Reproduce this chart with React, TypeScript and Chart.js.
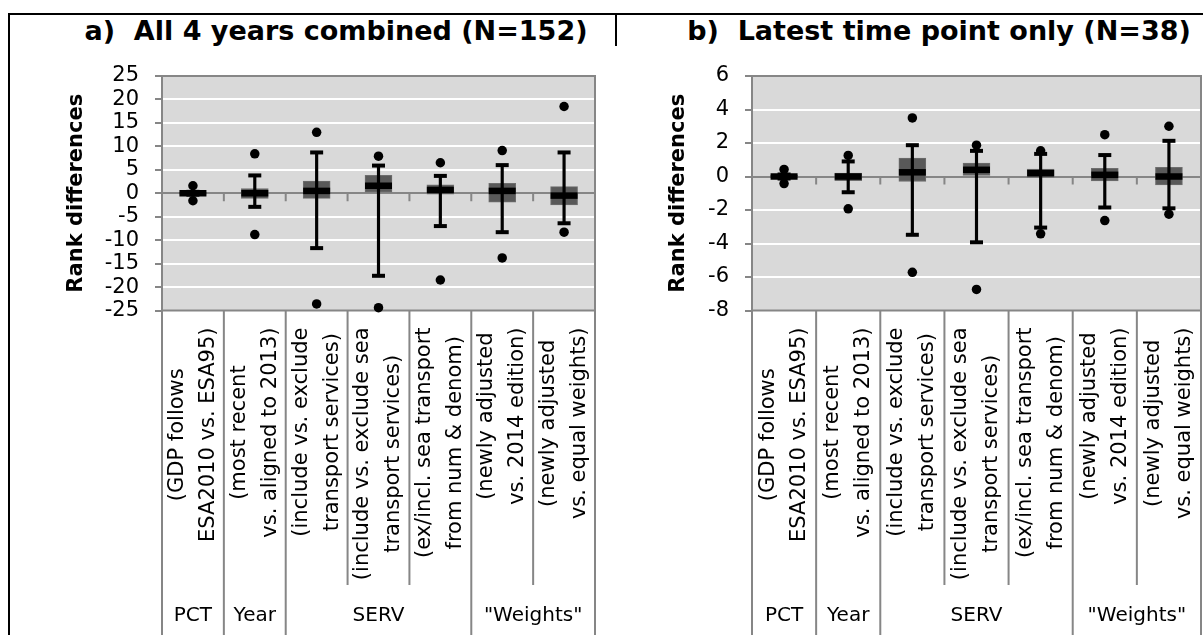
import React, { useEffect, useRef } from "react";
import { Chart, registerables } from "chart.js";

Chart.register(...registerables);

// ---------- DATA ----------
const categoryLabels: string[][] = [
  ["(GDP follows", "ESA2010 vs. ESA95)"],
  ["(most recent", "vs. aligned to 2013)"],
  ["(include vs. exclude", "transport services)"],
  ["(include vs. exclude sea", "transport services)"],
  ["(ex/incl. sea transport", "from num & denom)"],
  ["(newly adjusted", "vs. 2014 edition)"],
  ["(newly adjusted", "vs. equal weights)"],
];
const groupNames = ["PCT", "Year", "SERV", "\"Weights\""];
const groupStarts = [0, 1, 2, 5];
const groupEnds = [0, 1, 4, 6];

// a) All 4 years combined (N=152)
const allMin = [-1.6, -8.8, -23.6, -24.4, -18.5, -13.8, -8.3];
const allLowCap = [-0.3, -2.9, -11.7, -17.6, -7.0, -8.3, -6.4];
const allQ1 = [-0.2, -1.1, -1.1, 0.0, -0.2, -1.9, -2.5];
const allMedian = [0.0, 0.0, 0.5, 1.6, 0.7, 0.5, -0.5];
const allQ3 = [0.2, 1.0, 2.6, 3.8, 1.8, 2.1, 1.4];
const allHighCap = [0.3, 3.8, 8.7, 5.9, 3.7, 6.0, 8.7];
const allMax = [1.6, 8.4, 13.0, 7.9, 6.5, 9.1, 18.5];
const allTicks = { min: -25, max: 25, step: 5 };

// b) Latest time point only (N=38)
const latestMin = [-0.42, -1.93, -5.72, -6.74, -3.42, -2.63, -2.25];
const latestLowCap = [-0.12, -0.94, -3.48, -3.93, -3.05, -1.85, -1.9];
const latestQ1 = [-0.08, -0.25, -0.3, 0.0, -0.05, -0.27, -0.5];
const latestMedian = [0.0, 0.0, 0.25, 0.4, 0.2, 0.1, 0.0];
const latestQ3 = [0.08, 0.2, 1.1, 0.8, 0.45, 0.49, 0.55];
const latestHighCap = [0.12, 0.9, 1.87, 1.53, 1.35, 1.28, 2.13];
const latestMax = [0.42, 1.26, 3.5, 1.87, 1.53, 2.5, 3.0];
const latestTicks = { min: -8, max: 6, step: 2 };

// ---------- STYLE ----------
const FONT = '"DejaVu Sans", Verdana, sans-serif';
const AXIS = "#868686";
const PLOT_BG = "#d9d9d9";
const BOX = "#595959";

type PanelProps = {
  min: number[];
  lowCap: number[];
  q1: number[];
  median: number[];
  q3: number[];
  highCap: number[];
  max: number[];
  ticks: { min: number; max: number; step: number };
  width: number;
  yWidth: number;
  padRight: number;
  titlePad: number;
};

const CANVAS_H = 600;
const PLOT_TOP = 30;
const X_AXIS_H = 335.5;

function makeDecor() {
  return {
    id: "boxDecor",
    beforeDraw(chart: any) {
      const { ctx, chartArea: a } = chart;
      ctx.save();
      ctx.fillStyle = PLOT_BG;
      ctx.fillRect(a.left, a.top, a.right - a.left, a.bottom - a.top);
      ctx.restore();
    },
    beforeDatasetsDraw(chart: any) {
      const { ctx, chartArea: a, scales } = chart;
      const y = scales.y;
      const n = categoryLabels.length;
      const catW = (a.right - a.left) / n;
      ctx.save();
      ctx.strokeStyle = AXIS;
      ctx.lineWidth = 2;
      ctx.strokeRect(a.left, a.top, a.right - a.left, a.bottom - a.top);
      const y0 = y.getPixelForValue(0);
      ctx.beginPath();
      for (let b = 1; b < n; b++) {
        const bx = a.left + b * catW;
        ctx.moveTo(bx, y0);
        ctx.lineTo(bx, y0 + 8);
      }
      ctx.stroke();
      ctx.restore();
    },
    afterDraw(chart: any) {
      const { ctx, chartArea: a, scales, height } = chart;
      const x = scales.x;
      const n = categoryLabels.length;
      const catW = (a.right - a.left) / n;
      ctx.save();
      // separators
      ctx.strokeStyle = AXIS;
      ctx.lineWidth = 2;
      ctx.beginPath();
      for (let b = 0; b <= n; b++) {
        const bx = a.left + b * catW;
        const isGroup = groupStarts.includes(b) || b === n;
        ctx.moveTo(bx, a.bottom);
        ctx.lineTo(bx, isGroup ? height : a.bottom + 274.5);
      }
      ctx.stroke();
      // category labels
      ctx.fillStyle = "#000";
      ctx.font = `21px ${FONT}`;
      ctx.textAlign = "center";
      ctx.textBaseline = "middle";
      const topY = a.bottom + 17;
      const lineSp = 31;
      categoryLabels.forEach((lines, i) => {
        const maxW = Math.max(...lines.map((l) => ctx.measureText(l).width));
        const cx = x.getPixelForValue(i);
        const cy = topY + maxW / 2;
        ctx.save();
        ctx.translate(cx, cy);
        ctx.rotate(-Math.PI / 2);
        lines.forEach((l, j) => {
          ctx.fillText(l, 0, (j - (lines.length - 1) / 2) * lineSp);
        });
        ctx.restore();
      });
      // group labels
      ctx.font = `20px ${FONT}`;
      groupNames.forEach((g, k) => {
        const gx = (x.getPixelForValue(groupStarts[k]) + x.getPixelForValue(groupEnds[k])) / 2;
        ctx.fillText(g, gx, a.bottom + 305);
      });
      ctx.restore();
    },
  };
}

function Panel(p: PanelProps) {
  const ref = useRef<HTMLCanvasElement | null>(null);
  useEffect(() => {
    if (!ref.current) return;
    const labels = categoryLabels.map((l) => l.join(" "));
    const boxes = p.q1.map((v, i) => [v, p.q3[i]]);
    const whiskers = p.lowCap.map((v, i) => [v, p.highCap[i]]);
    const pointDs = (data: number[], style: string, radius: number, bw: number, order: number) => ({
      type: "line" as const,
      data,
      showLine: false,
      pointStyle: style,
      pointRadius: radius,
      pointHoverRadius: radius,
      pointBorderWidth: bw,
      pointBorderColor: "#000",
      pointBackgroundColor: "#000",
      borderColor: "#000",
      backgroundColor: "#000",
      clip: false as any,
      order,
    });
    const chart = new Chart(ref.current, {
      type: "bar",
      data: {
        labels,
        datasets: [
          {
            type: "bar",
            data: boxes as any,
            backgroundColor: BOX,
            borderColor: "#6e6e6e",
            borderWidth: 1,
            borderSkipped: false,
            barThickness: 27,
            grouped: false,
            order: 6,
          } as any,
          {
            type: "bar",
            data: whiskers as any,
            backgroundColor: "#000",
            borderWidth: 0,
            barThickness: 2.5,
            grouped: false,
            order: 5,
          } as any,
          pointDs(p.median, "line", 13.5, 6.5, 4),
          pointDs(p.lowCap, "line", 6.5, 4, 3),
          pointDs(p.highCap, "line", 6.5, 4, 3),
          pointDs(p.min, "circle", 4.75, 0, 1),
          pointDs(p.max, "circle", 4.75, 0, 1),
        ] as any,
      },
      options: {
        responsive: false,
        animation: false,
        events: [],
        layout: { padding: { top: PLOT_TOP, right: p.padRight, left: 0, bottom: 0 } },
        plugins: { legend: { display: false }, tooltip: { enabled: false } },
        scales: {
          x: {
            type: "category",
            offset: true,
            grid: { display: false },
            border: { display: false },
            ticks: { display: false },
            afterFit: (s: any) => {
              s.height = X_AXIS_H;
            },
          },
          y: {
            min: p.ticks.min,
            max: p.ticks.max,
            ticks: {
              stepSize: p.ticks.step,
              autoSkip: false,
              color: "#000",
              padding: 16,
              font: { family: FONT, size: 21 },
            },
            grid: {
              color: (c: any) => (c.tick && c.tick.value === 0 ? AXIS : "#ffffff"),
              lineWidth: 2,
              tickColor: AXIS,
              tickLength: 7,
              tickWidth: 2,
            },
            border: { display: true, color: AXIS, width: 2 },
            title: {
              display: true,
              text: "Rank differences",
              color: "#000",
              font: { family: FONT, size: 21, weight: "bold" },
              padding: { top: p.titlePad, bottom: 0 },
            },
            afterFit: (s: any) => {
              s.width = p.yWidth;
            },
          },
        },
      } as any,
      plugins: [makeDecor()],
    });
    return () => chart.destroy();
  }, []);
  return <canvas ref={ref} width={p.width} height={CANVAS_H} style={{ display: "block" }} />;
}

const titleStyle: React.CSSProperties = {
  position: "absolute",
  top: 16,
  height: 30,
  lineHeight: "30px",
  width: 600,
  textAlign: "center",
  fontFamily: FONT,
  fontWeight: "bold",
  fontSize: 27,
  whiteSpace: "pre",
  color: "#000",
};

export default function App() {
  return (
    <div
      style={{
        position: "fixed",
        left: 0,
        top: 0,
        width: 1203,
        height: 635,
        overflow: "hidden",
        background: "#fff",
      }}
    >
      <div
        style={{
          position: "absolute",
          left: 8,
          top: 13,
          width: 1400,
          height: 800,
          border: "2px solid #000",
          boxSizing: "border-box",
        }}
      />
      <div style={{ position: "absolute", left: 615, top: 13, width: 2, height: 33, background: "#000" }} />
      <div style={{ ...titleStyle, left: 36 }}>{"a)  All 4 years combined (N=152)"}</div>
      <div style={{ ...titleStyle, left: 639 }}>{"b)  Latest time point only (N=38)"}</div>
      <div style={{ position: "absolute", left: 10, top: 46 }}>
        <Panel
          min={allMin}
          lowCap={allLowCap}
          q1={allQ1}
          median={allMedian}
          q3={allQ3}
          highCap={allHighCap}
          max={allMax}
          ticks={allTicks}
          width={605}
          yWidth={152}
          padRight={14}
          titlePad={54.4}
        />
      </div>
      <div style={{ position: "absolute", left: 615, top: 46 }}>
        <Panel
          min={latestMin}
          lowCap={latestLowCap}
          q1={latestQ1}
          median={latestMedian}
          q3={latestQ3}
          highCap={latestHighCap}
          max={latestMax}
          ticks={latestTicks}
          width={610}
          yWidth={137}
          padRight={24}
          titlePad={51.4}
        />
      </div>
    </div>
  );
}
